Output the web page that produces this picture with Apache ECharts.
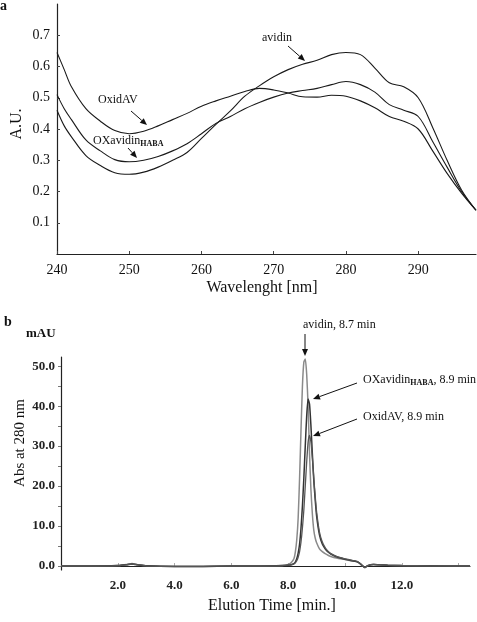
<!DOCTYPE html>
<html><head><meta charset="utf-8">
<script src="https://cdn.jsdelivr.net/npm/echarts@6/dist/echarts.min.js"></script>
<style>html,body{margin:0;padding:0;background:#fff}#c{width:477px;height:622px}</style>
</head><body><div id="c"></div>
<script>
// Panel a: UV spectra
const waveA = [240,241,242,244,246,248,250,252,254,256,258,260,262,264,266,268,270,272,274,276,278,280,282,284,286,288,290,292,294,296,298];
const oxidAV_A   = [0.645,0.59,0.535,0.465,0.425,0.395,0.385,0.393,0.41,0.43,0.45,0.473,0.49,0.505,0.52,0.53,0.525,0.515,0.503,0.502,0.508,0.505,0.49,0.468,0.44,0.425,0.40,0.33,0.258,0.195,0.14];
const oxavidinA  = [0.51,0.465,0.43,0.365,0.33,0.302,0.295,0.30,0.312,0.33,0.353,0.385,0.418,0.44,0.465,0.485,0.502,0.515,0.523,0.53,0.542,0.552,0.542,0.518,0.478,0.46,0.44,0.36,0.278,0.2,0.14];
const avidinA    = [0.46,0.41,0.375,0.315,0.283,0.26,0.255,0.262,0.278,0.3,0.325,0.37,0.415,0.458,0.505,0.538,0.567,0.59,0.607,0.62,0.638,0.645,0.638,0.595,0.548,0.535,0.5,0.405,0.30,0.205,0.14];
const xTicksA = [240,250,260,270,280,290];
const yTicksA = [0.1,0.2,0.3,0.4,0.5,0.6,0.7];

// Panel b: chromatograms
const timeB = [0,1,2,2.3,2.5,2.7,3,4,5,6,7,7.8,8.0,8.1,8.2,8.25,8.3,8.35,8.4,8.45,8.5,8.55,8.6,8.65,8.7,8.75,8.8,8.85,8.9,8.95,9.0,9.1,9.2,9.3,9.4,9.5,9.7,10.0,10.2,10.4,10.5,10.6,10.7,10.8,11.0,11.2,11.5,12,13,14,14.4];
const avidinB   = [0,0,0.1,0.4,0.6,0.3,0.05,-0.1,-0.1,0,0,0.1,0.4,0.8,1.8,3.5,6.5,12,22,34,45,51,51.8,48,40,28,19,13,9,7,5.8,4.3,3.6,3.1,2.7,2.4,2.0,1.6,1.3,1.1,0.7,0.1,-0.4,0.1,0.4,0.3,0.2,0.1,0.05,0,0];
const oxavidinB = [0,0,0.1,0.3,0.5,0.3,0.05,-0.1,-0.1,0,0,0.1,0.2,0.3,0.6,1,1.8,3.2,5.5,9.5,15,22,30,37.5,41.8,40.5,35,28,21.5,16.5,12.5,7.8,5.5,4.3,3.5,3,2.3,1.7,1.4,1.1,0.8,0.2,-0.4,0.1,0.4,0.3,0.2,0.1,0.05,0,0];
const oxidavB   = [0,0,0.1,0.3,0.5,0.3,0.05,-0.1,-0.1,0,0,0.1,0.2,0.3,0.5,0.8,1.3,2.2,3.6,6,9.5,14,20,26,31,32.7,31,27,22,17.5,13.5,8.5,6,4.6,3.7,3.1,2.4,1.8,1.5,1.2,0.8,0.2,-0.4,0.1,0.4,0.3,0.2,0.1,0.05,0,0];
const xTicksB = [2,4,6,8,10,12];
const yTicksB = [0,10,20,30,40,50];
const yMinorB = [0,5,10,15,20,25,30,35,40,45,50];

const FONT = '"Liberation Serif","Times New Roman",serif';
const pair = (xs, ys) => xs.map((x, i) => [x, ys[i]]);

function arrow(x1, y1, x2, y2) {
  const a = Math.atan2(y2 - y1, x2 - x1), L = 7, W = 3;
  const bx = x2 - L * Math.cos(a), by = y2 - L * Math.sin(a);
  const px = -Math.sin(a) * W, py = Math.cos(a) * W;
  return [
    {type: 'line', shape: {x1, y1, x2: bx, y2: by}, style: {stroke: '#111', lineWidth: 1}},
    {type: 'polygon', shape: {points: [[x2, y2], [bx + px, by + py], [bx - px, by - py]]}, style: {fill: '#111'}}
  ];
}
function txt(x, y, text, size, extra) {
  return {type: 'text', x, y, style: Object.assign({text, font: size + 'px ' + FONT, fill: '#111', textVerticalAlign: 'middle'}, extra || {})};
}

const chart = echarts.init(document.getElementById('c'), null, {renderer: 'canvas'});
const axisLineStyle = {color: '#222', width: 1.2};
chart.setOption({
  animation: false,
  grid: [
    {left: 57, top: 4, width: 419, height: 250},
    {left: 61, top: 357, width: 409, height: 213}
  ],
  xAxis: [
    {gridIndex: 0, type: 'value', min: 240, max: 298, splitLine: {show: false},
     axisLine: {lineStyle: axisLineStyle},
     axisTick: {inside: true, length: 3, customValues: xTicksA, lineStyle: {color: '#444'}},
     axisLabel: {customValues: xTicksA, fontFamily: FONT, fontSize: 14, color: '#111', margin: 9}},
    {gridIndex: 1, type: 'value', min: 0, max: 14.4, splitLine: {show: false},
     axisLine: {lineStyle: axisLineStyle},
     axisTick: {inside: true, length: 3, customValues: [2,4,6,8,10,12,14], lineStyle: {color: '#aaa'}},
     axisLabel: {customValues: xTicksB, formatter: v => v.toFixed(1), fontFamily: FONT, fontSize: 13, fontWeight: 'bold', color: '#222', margin: 9}}
  ],
  yAxis: [
    {gridIndex: 0, type: 'value', min: 0, max: 0.8, splitLine: {show: false},
     axisLine: {show: true, lineStyle: axisLineStyle},
     axisTick: {show: true, inside: true, length: 3, customValues: yTicksA, lineStyle: {color: '#444'}},
     axisLabel: {customValues: yTicksA, formatter: v => v.toFixed(1), fontFamily: FONT, fontSize: 14, color: '#111', margin: 7}},
    {gridIndex: 1, type: 'value', min: -1, max: 52.3, splitLine: {show: false},
     axisLine: {show: true, lineStyle: axisLineStyle},
     axisTick: {show: true, length: 3, customValues: yMinorB, lineStyle: {color: '#777'}},
     axisLabel: {customValues: yTicksB, formatter: v => v.toFixed(1), fontFamily: FONT, fontSize: 13, fontWeight: 'bold', color: '#222', margin: 6}}
  ],
  series: [
    {name: 'OxidAV', type: 'line', xAxisIndex: 0, yAxisIndex: 0, data: pair(waveA, oxidAV_A), showSymbol: false, smooth: 0.35, lineStyle: {color: '#1a1a1a', width: 1.1}},
    {name: 'OXavidinHABA', type: 'line', xAxisIndex: 0, yAxisIndex: 0, data: pair(waveA, oxavidinA), showSymbol: false, smooth: 0.35, lineStyle: {color: '#1a1a1a', width: 1.1}},
    {name: 'avidin', type: 'line', xAxisIndex: 0, yAxisIndex: 0, data: pair(waveA, avidinA), showSymbol: false, smooth: 0.35, lineStyle: {color: '#1a1a1a', width: 1.1}},
    {name: 'avidin b', type: 'line', xAxisIndex: 1, yAxisIndex: 1, data: pair(timeB, avidinB), showSymbol: false, smooth: 0.2, lineStyle: {color: '#8a8a8a', width: 1.5}},
    {name: 'OXavidinHABA b', type: 'line', xAxisIndex: 1, yAxisIndex: 1, data: pair(timeB, oxavidinB), showSymbol: false, smooth: 0.2, lineStyle: {color: '#333', width: 1.5}},
    {name: 'OxidAV b', type: 'line', xAxisIndex: 1, yAxisIndex: 1, data: pair(timeB, oxidavB), showSymbol: false, smooth: 0.2, lineStyle: {color: '#555', width: 1.3}}
  ],
  graphic: [].concat(
    [txt(0, 6, 'a', 14, {font: 'bold 14px ' + FONT}),
     txt(4, 322, 'b', 14, {font: 'bold 14px ' + FONT}),
     {type: 'text', x: 17, y: 124, rotation: Math.PI / 2, style: {text: 'A.U.', font: '16px ' + FONT, fill: '#111', textAlign: 'center', textVerticalAlign: 'middle'}},
     {type: 'text', x: 262, y: 288, style: {text: 'Wavelenght [nm]', font: '16px ' + FONT, fill: '#111', textAlign: 'center', textVerticalAlign: 'middle'}},
     {type: 'text', x: 20, y: 443, rotation: Math.PI / 2, style: {text: 'Abs at 280 nm', font: '15px ' + FONT, fill: '#111', textAlign: 'center', textVerticalAlign: 'middle'}},
     {type: 'text', x: 272, y: 606, style: {text: 'Elution Time [min.]', font: '16px ' + FONT, fill: '#111', textAlign: 'center', textVerticalAlign: 'middle'}},
     txt(26, 334, 'mAU', 13, {font: 'bold 13px ' + FONT}),
     txt(98, 100, 'OxidAV', 12),
     {type: 'text', x: 93, y: 141, style: {text: 'OXavidin{s|HABA}', font: '12px ' + FONT, fill: '#111', textVerticalAlign: 'middle', rich: {s: {fontSize: 8, fontFamily: FONT, fontWeight: 'bold', verticalAlign: 'bottom', padding: [5, 0, 0, 0]}}}},
     txt(262, 38, 'avidin', 12),
     txt(303, 325, 'avidin, 8.7 min', 12),
     {type: 'text', x: 363, y: 380, style: {text: 'OXavidin{s|HABA}, 8.9 min', font: '12px ' + FONT, fill: '#111', textVerticalAlign: 'middle', rich: {s: {fontSize: 8, fontFamily: FONT, fontWeight: 'bold', verticalAlign: 'bottom', padding: [5, 0, 0, 0]}}}},
     txt(363, 417, 'OxidAV, 8.9 min', 12)
    ],
    arrow(131, 111, 147, 125),
    arrow(128, 148, 137, 158),
    arrow(288, 46, 305, 61),
    arrow(305, 334, 305, 356),
    arrow(357, 383, 313, 399),
    arrow(357, 419, 313, 436)
  )
});
</script>
</body></html>
